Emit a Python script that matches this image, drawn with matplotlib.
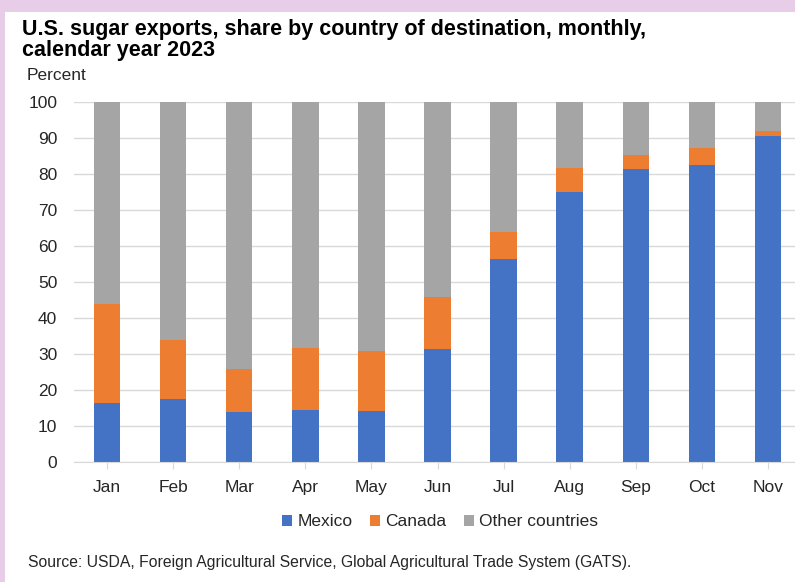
import numpy as np
import matplotlib.pyplot as plt
from matplotlib.patches import Rectangle

plt.rcParams['font.family'] = ['Liberation Sans', 'DejaVu Sans']

months = ["Jan", "Feb", "Mar", "Apr", "May", "Jun", "Jul", "Aug", "Sep", "Oct", "Nov"]
mexico = [16.3, 17.5, 13.8, 14.4, 14.1, 31.3, 56.5, 75.1, 81.3, 82.6, 90.5]
canada_top = [44.0, 33.8, 25.9, 31.8, 30.9, 45.7, 63.8, 81.7, 85.4, 87.1, 92.0]
canada = [c - m for c, m in zip(canada_top, mexico)]
other = [100 - c for c in canada_top]

c_mex, c_can, c_oth = "#4472C4", "#ED7D31", "#A5A5A5"

W, H = 795, 582
fig = plt.figure(figsize=(W / 100, H / 100), dpi=100)
fig.patch.set_facecolor("#E8CDE8")
fig.patches.append(Rectangle((5 / W, 0), 1, 1 - 12 / H, transform=fig.transFigure,
                             facecolor="white", edgecolor="none", zorder=-5))

# axes: x from 74 to 801 px, y from 102 to 462 px
ax = fig.add_axes([74 / W, (H - 462) / H, (801 - 74) / W, 360 / H])
ax.set_zorder(2)
ax.set_facecolor("none")
x = np.arange(len(months))
w = 0.4
ax.bar(x, mexico, w, color=c_mex, label="Mexico", zorder=3)
ax.bar(x, canada, w, bottom=mexico, color=c_can, label="Canada", zorder=3)
ax.bar(x, other, w, bottom=canada_top, color=c_oth, label="Other countries", zorder=3)

ax.set_xlim(-0.5, len(months) - 0.5)
ax.set_ylim(0, 100)
ax.set_yticks(range(0, 101, 10))
ax.set_xticks(x)
ax.set_xticklabels(months)
ax.yaxis.grid(True, color="#D9D9D9", linewidth=1, zorder=0)
ax.set_axisbelow(True)
for s in ["top", "right", "left"]:
    ax.spines[s].set_visible(False)
ax.spines["bottom"].set_color("#D9D9D9")
ax.spines["bottom"].set_zorder(4)
ax.tick_params(axis="y", length=0, pad=12, labelsize=12.5, labelcolor="#262626")
ax.tick_params(axis="x", length=5, color="#D9D9D9", pad=8, labelsize=12.5, labelcolor="#262626")

fig.text(22 / W, 1 - 40 / H, "U.S. sugar exports, share by country of destination, monthly,\ncalendar year 2023",
         fontsize=15.5, fontweight="bold", va="center", ha="left", linespacing=1.05, color="black")
fig.text(27 / W, 1 - 76 / H, "Percent", fontsize=12.5, va="center", ha="left", color="#262626")

leg = fig.legend(loc="center", bbox_to_anchor=(440 / W, 1 - 522 / H), ncol=3, frameon=False,
                 fontsize=12.5, handlelength=0.6, handleheight=0.6, handletextpad=0.3,
                 columnspacing=1.0)
for t in leg.get_texts():
    t.set_color("#262626")

fig.text(28 / W, 1 - 562 / H, "Source: USDA, Foreign Agricultural Service, Global Agricultural Trade System (GATS).",
         fontsize=11.3, va="center", ha="left", color="#262626")

fig.savefig("out.png", dpi=100)
